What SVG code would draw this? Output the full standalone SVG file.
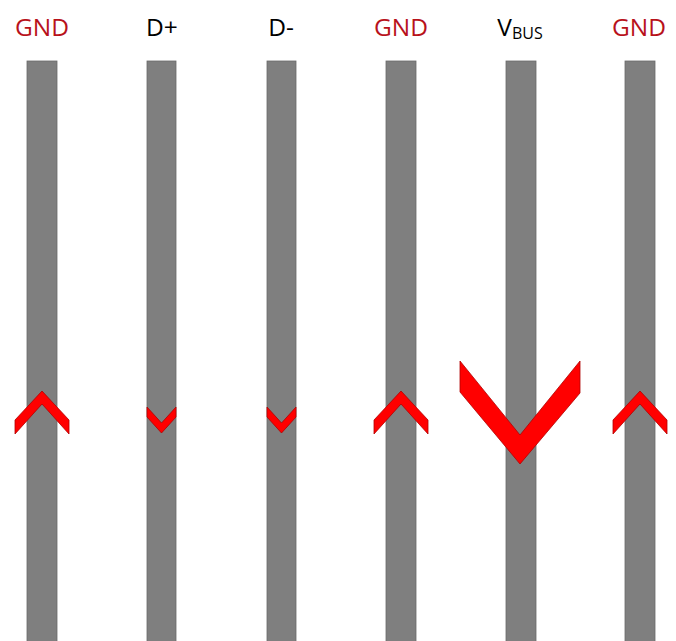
<svg xmlns="http://www.w3.org/2000/svg" width="676" height="641" viewBox="0 0 676 641">
<style>
.bar{fill:#7f7f7f;stroke:#6a6a6a;stroke-width:0.8}
.chev{fill:#ff0000;stroke:#b00000;stroke-width:0.8;stroke-linejoin:miter}
.lbl{font-family:"Open Sans","Liberation Sans",sans-serif;font-size:24.5px;text-anchor:middle}
.gnd{fill:#b8121b}
.blk{fill:#000000}
</style>
<rect width="676" height="641" fill="#ffffff"/>
<g id="pin-gnd1">
<rect class="bar" x="27" y="61" width="30" height="590"/>
<polygon class="chev" points="42,391 69,420 69,434 42,404 15,434 15,420"/>
<text class="lbl gnd" x="42" y="36">GND</text>
</g>
<g id="pin-dplus">
<rect class="bar" x="147" y="61" width="29" height="590"/>
<polygon class="chev" points="147,407 161.5,423 176,407 176,417 161.5,433 147,417"/>
<text class="lbl blk" x="162" y="36">D+</text>
</g>
<g id="pin-dminus">
<rect class="bar" x="267" y="61" width="29" height="590"/>
<polygon class="chev" points="267,407 281.5,423 296,407 296,417 281.5,433 267,417"/>
<text class="lbl blk" x="281" y="36">D-</text>
</g>
<g id="pin-gnd2">
<rect class="bar" x="386" y="61" width="30" height="590"/>
<polygon class="chev" points="401,391 428,420 428,434 401,404 374,434 374,420"/>
<text class="lbl gnd" x="401" y="36">GND</text>
</g>
<g id="pin-vbus">
<rect class="bar" x="506" y="61" width="30" height="590"/>
<polygon class="chev" points="460,361 520,435 580,361 580,393 520,464 460,392"/>
<text class="lbl blk" x="520" y="36">V<tspan font-size="16" dy="3">BUS</tspan></text>
</g>
<g id="pin-gnd3">
<rect class="bar" x="625" y="61" width="30" height="590"/>
<polygon class="chev" points="640,391 667,420 667,434 640,404 613,434 613,420"/>
<text class="lbl gnd" x="639" y="36">GND</text>
</g>
<g id="connectors"></g>
</svg>
